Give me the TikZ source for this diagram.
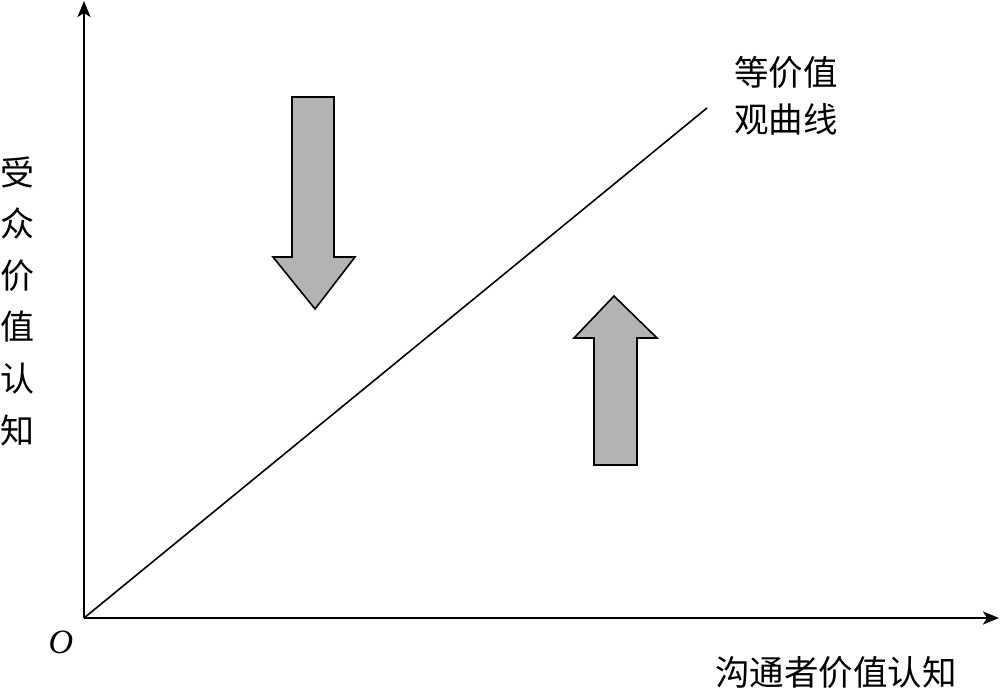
\documentclass[tikz,border=0pt]{standalone}
\usepackage{fontspec}
\setmainfont{Liberation Serif}
\newfontfamily\cjk{Noto Sans CJK SC}
\usetikzlibrary{arrows.meta}
\definecolor{arrowgray}{HTML}{B3B3B3}
\tikzset{
  axis/.style={line width=2.2pt,-{Stealth[length=16pt,width=13pt,inset=4pt]}},
  curve/.style={line width=1.6pt},
  bigarrow/.style={fill=arrowgray,draw=black,line width=1.6pt,line join=miter},
  lbl/.style={inner sep=0pt,font=\cjk\fontsize{34.5}{47}\selectfont,align=left}
}
\begin{document}
\begin{tikzpicture}[x=1pt,y=-1pt]
\useasboundingbox (0,0) rectangle (1000,688);
\coordinate (O) at (84,618);
\coordinate (ytop) at (84,1);
\coordinate (xend) at (999,618);
\coordinate (cend) at (707,108);
\draw[axis] (O) -- (ytop);
\draw[axis] (O) -- (xend);
\draw[curve] (O) -- (cend);
% down arrow
\draw[bigarrow] (292,97) -- (334,97) -- (334,257) -- (355,257) -- (315,309) -- (273,257) -- (292,257) -- cycle;
% up arrow
\draw[bigarrow] (594,465) -- (637,465) -- (637,338) -- (657,338) -- (614,296) -- (574,338) -- (594,338) -- cycle;
\node[inner sep=0pt,font=\fontsize{34}{34}\selectfont\itshape] (olbl) at (61,642) {O};
\node[lbl] (clbl) at (786,96) {等价值\\观曲线};
\node[lbl,align=center,font=\cjk\fontsize{34}{51.6}\selectfont] (ylbl) at (18,301) {受\\众\\价\\值\\认\\知};
\node[lbl] (xlbl) at (836,672) {沟通者价值认知};
\end{tikzpicture}
\end{document}
